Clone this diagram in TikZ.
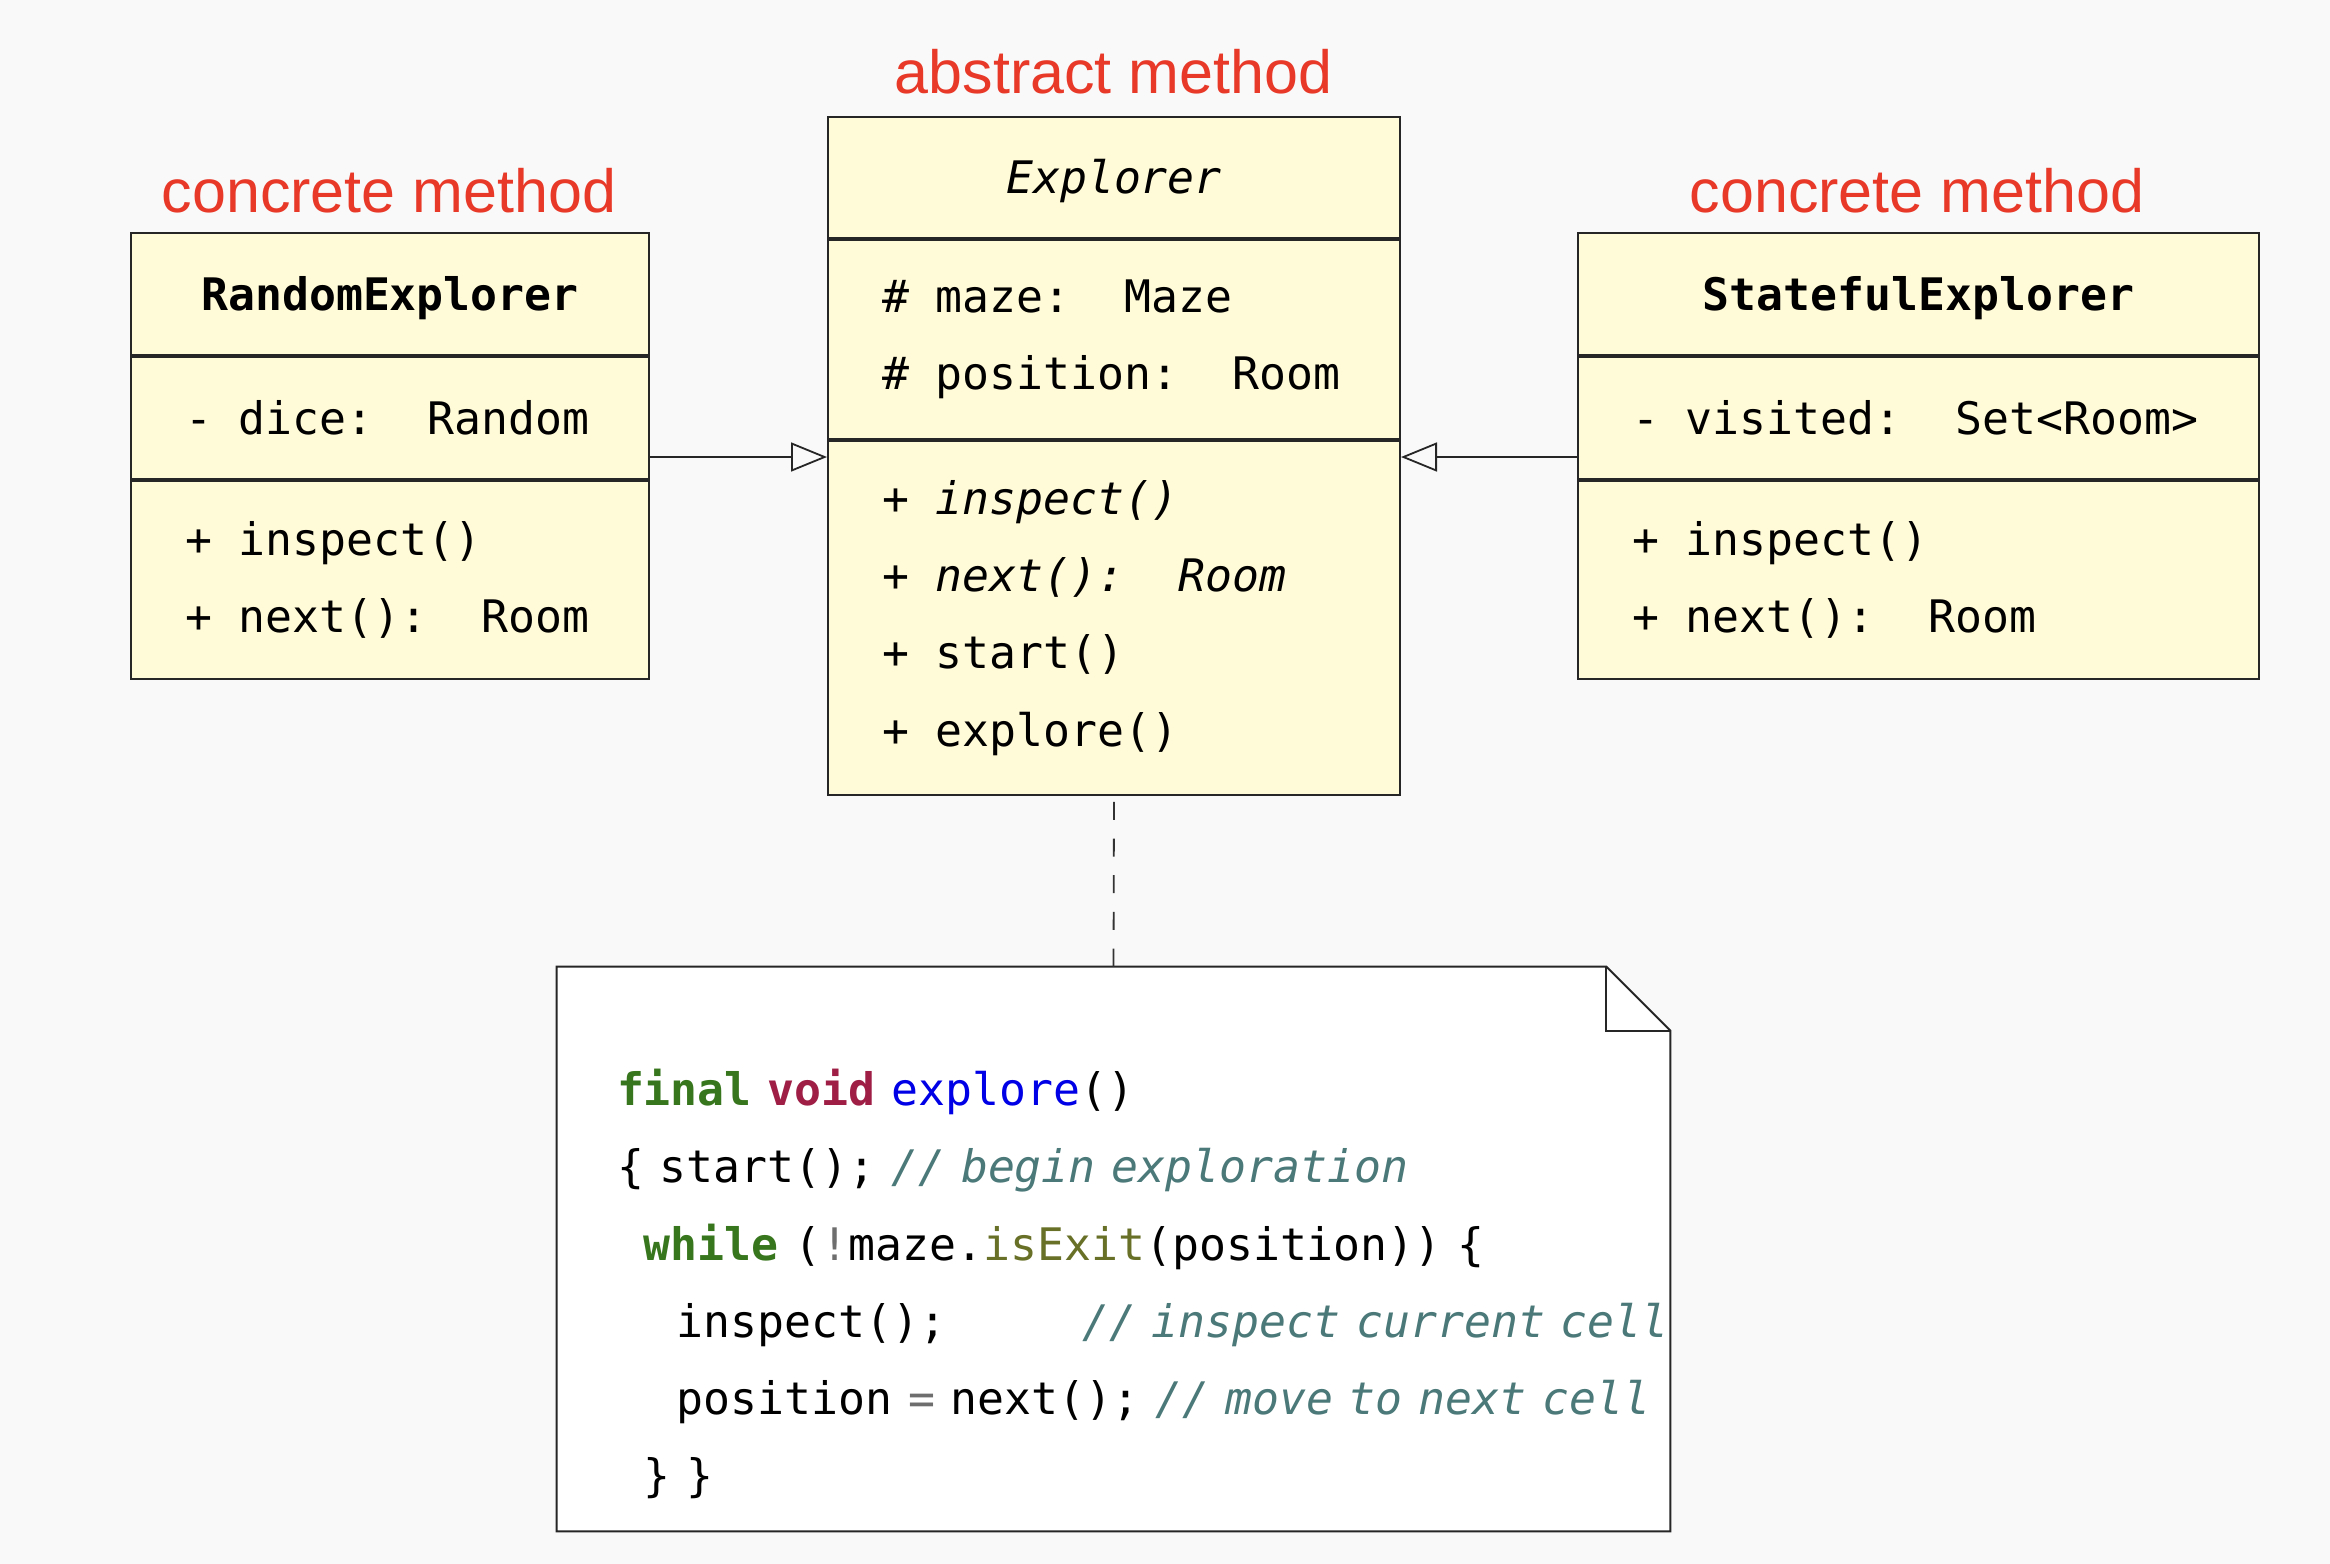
\documentclass[tikz,border=0pt]{standalone}
\usepackage{fontspec}
\setmainfont{Liberation Sans}
\setmonofont{DejaVu Sans Mono}[BoldFont={DejaVu Sans Mono Bold}, ItalicFont={DejaVu Sans Mono Oblique}]
\usepackage{xcolor}
\usepackage{tikz}
\usetikzlibrary{arrows.meta}

\definecolor{pagebg}{RGB}{249,249,249}
\definecolor{clsfill}{RGB}{255,250,215}
\definecolor{tagred}{RGB}{232,56,40}
\definecolor{kwgreen}{RGB}{56,118,29}
\definecolor{kwcrimson}{RGB}{158,30,70}
\definecolor{fnblue}{RGB}{0,0,230}
\definecolor{fnolive}{RGB}{104,112,40}
\definecolor{cmtteal}{RGB}{75,120,120}
\definecolor{opgray}{RGB}{110,110,110}
\newcommand\boxface{\fontsize{22.4pt}{38.6pt}\selectfont\ttfamily}
\newcommand\fullspace{\spaceskip=0.602em\relax}
\newcommand\codeface{\fontsize{22.4pt}{38.65pt}\selectfont\ttfamily\spaceskip=7.9pt\relax}

\begin{document}
\begin{tikzpicture}[x=0.5pt, y=-0.5pt,
    hd/.style={draw=black!85, fill=clsfill, line width=1pt, inner sep=0pt, minimum height=61pt, text height=17pt, text depth=1pt, font=\boxface},
    part/.style={draw=black!85, fill=clsfill, line width=1pt, inner xsep=27pt, inner ysep=0pt, align=left, anchor=north, font=\boxface, execute at begin node=\fullspace},
    tag/.style={text=tagred, anchor=base, inner sep=0pt, font=\fontsize{30.5pt}{36pt}\selectfont},
    inherit/.style={draw=black!85, line width=0.9pt, -{Triangle[open, length=18pt, width=14.5pt, line width=0.9pt]}},
    link/.style={draw=black!80, line width=0.9pt, dash pattern=on 9pt off 9.35pt},
    notebox/.style={draw=black!85, fill=white, line width=1pt},
    code/.style={inner sep=0pt, align=left, anchor=north west, font=\codeface}]
    \fill[pagebg] (0,0) rectangle (2330,1564);
    % tags
    \node[tag] (expl-tag) at (1113.5,93) {abstract method};
    \node[tag] (rnd-tag) at (389,212) {concrete method};
    \node[tag] (sfe-tag) at (1917,212) {concrete method};
    % abstract class
    \node[hd, minimum width=286pt, minimum height=60.5pt] (expl) at (1114,177.5) {\itshape Explorer};
    \node[part, text width=232pt, minimum height=99.5pt] (expl-attr) at (expl.south) {\#~maze:~~Maze\\\#~position:~~Room};
    \node[part, text width=232pt, minimum height=177pt] (expl-ops) at (expl-attr.south) {+~\textit{inspect()}\\+~\textit{next():~~Room}\\+~start()\\+~explore()};
    % concrete classes
    \node[hd, minimum width=259pt] (rnd) at (390,294) {\bfseries RandomExplorer};
    \node[part, text width=205pt, minimum height=61pt] (rnd-attr) at (rnd.south) {-~dice:~~Random};
    \node[part, text width=205pt, minimum height=99pt] (rnd-ops) at (rnd-attr.south) {+~inspect()\\+~next():~~Room};
    \node[hd, minimum width=340.5pt] (sfe) at (1918.5,294) {\bfseries StatefulExplorer};
    \node[part, text width=286.5pt, minimum height=61pt] (sfe-attr) at (sfe.south) {-~visited:~~Set<Room>};
    \node[part, text width=286.5pt, minimum height=99pt] (sfe-ops) at (sfe-attr.south) {+~inspect()\\+~next():~~Room};
    % generalisation
    \draw[inherit] ([yshift=11.5pt]rnd-attr.south east) -- ([yshift=-8.5pt]expl-ops.north west);
    \draw[inherit] ([yshift=11.5pt]sfe-attr.south west) -- ([yshift=-8.5pt]expl-ops.north east);
    % note on explore()
    \node[minimum width=556.5pt, minimum height=282pt, inner sep=0pt] (note) at (1113.5,1249) {};
    \draw[notebox] (note.north west) -- ([xshift=-32pt]note.north east) -- ([yshift=-32pt]note.north east) -- (note.south east) -- (note.south west) -- cycle;
    \draw[notebox, fill=none] ([xshift=-32pt]note.north east) |- ([yshift=-32pt]note.north east);
    \node[code] (code) at ([xshift=30pt, yshift=-51pt]note.north west) {%
        {\bfseries\color{kwgreen}final} {\bfseries\color{kwcrimson}void} {\color{fnblue}explore}()\\
        \{ start(); {\color{cmtteal}\itshape // begin exploration}\\
        \hspace*{0.6em}{\bfseries\color{kwgreen}while} ({\color{opgray}!}maze.{\color{fnolive}isExit}(position)) \{\\
        \hspace*{1.33em}inspect();\hspace{3.03em}{\color{cmtteal}\itshape // inspect current cell}\\
        \hspace*{1.33em}position {\color{opgray}=} next(); {\color{cmtteal}\itshape // move to next cell}\\
        \hspace*{0.6em}\} \}};
    \draw[link] (note.north) -- (expl-ops.south);
\end{tikzpicture}
\end{document}
